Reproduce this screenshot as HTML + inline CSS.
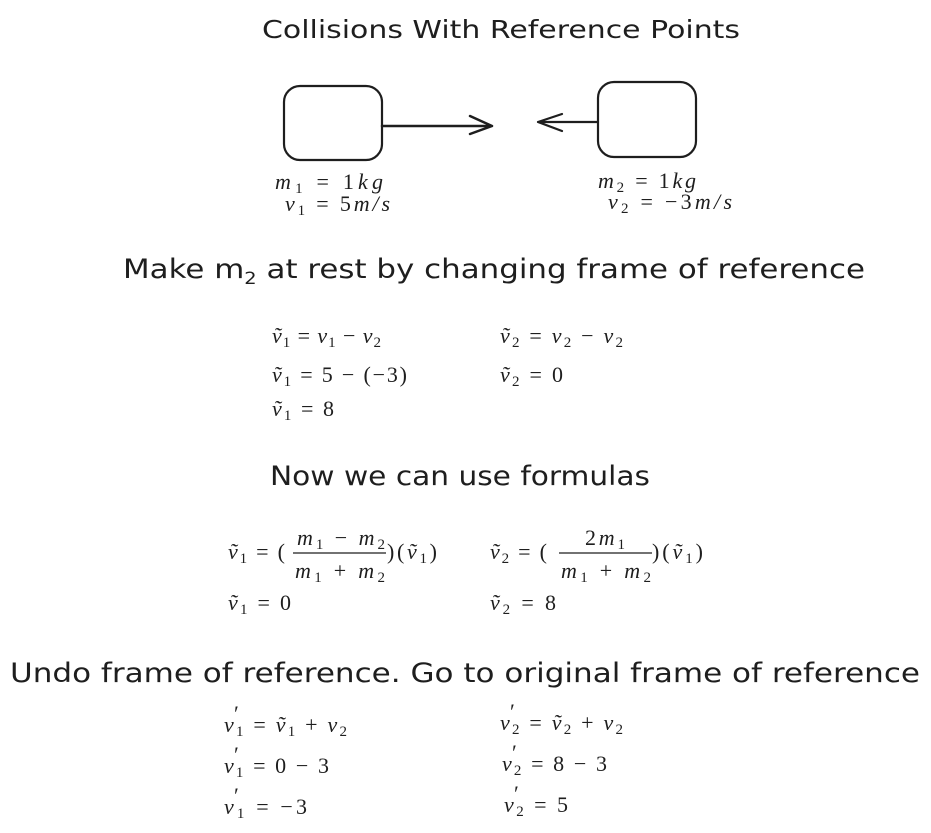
<!DOCTYPE html>
<html><head><meta charset="utf-8"><style>
html,body{margin:0;padding:0;background:#fff;}
svg{display:block}
.h{font-family:"DejaVu Sans","Liberation Sans",sans-serif;fill:#1e1e1e;}
.m{font-family:"Liberation Serif",serif;font-size:22px;fill:#1e1e1e;}
.i{font-style:italic}
</style></head><body>
<svg width="931" height="833" viewBox="0 0 931 833" xmlns="http://www.w3.org/2000/svg">
<text class="h" x="501" y="38" font-size="25" text-anchor="middle" textLength="478" lengthAdjust="spacingAndGlyphs">Collisions With Reference Points</text>

<rect x="284" y="86" width="98" height="74" rx="16" fill="none" stroke="#1e1e1e" stroke-width="2.2"/>
<path d="M382 126 L492 126 M470 116 L492 126 L470 134" fill="none" stroke="#1e1e1e" stroke-width="2.5" stroke-linecap="round" stroke-linejoin="round"/>
<rect x="598" y="82" width="98" height="75" rx="16" fill="none" stroke="#1e1e1e" stroke-width="2.2"/>
<path d="M598 122 L538 122 M562 114 L538 122 L562 131" fill="none" stroke="#1e1e1e" stroke-width="2.2" stroke-linecap="round" stroke-linejoin="round"/>

<text class="m" x="275" y="189" textLength="108" lengthAdjust="spacing"><tspan class="i">m</tspan><tspan font-size="15" dy="4">1</tspan><tspan dy="-4"> = 1</tspan><tspan class="i">kg</tspan></text>
<text class="m" x="285" y="211" textLength="105" lengthAdjust="spacing"><tspan class="i">v</tspan><tspan font-size="15" dy="4">1</tspan><tspan dy="-4"> = 5</tspan><tspan class="i">m/s</tspan></text>
<text class="m" x="598" y="188" textLength="98" lengthAdjust="spacing"><tspan class="i">m</tspan><tspan font-size="15" dy="4">2</tspan><tspan dy="-4"> = 1</tspan><tspan class="i">kg</tspan></text>
<text class="m" x="608" y="209" textLength="124" lengthAdjust="spacing"><tspan class="i">v</tspan><tspan font-size="15" dy="4">2</tspan><tspan dy="-4"> = −3</tspan><tspan class="i">m/s</tspan></text>

<text class="h" x="123" y="278" font-size="27" textLength="742" lengthAdjust="spacingAndGlyphs">Make m<tspan font-size="17" dy="6">2</tspan><tspan dy="-6"> at rest by changing frame of reference</tspan></text>

<text class="m" x="272" y="343" textLength="109" lengthAdjust="spacing"><tspan class="i">ṽ</tspan><tspan font-size="15" dy="4">1</tspan><tspan dy="-4"> = </tspan><tspan class="i">v</tspan><tspan font-size="15" dy="4">1</tspan><tspan dy="-4"> − </tspan><tspan class="i">v</tspan><tspan font-size="15" dy="4">2</tspan></text>
<text class="m" x="500" y="343" textLength="123" lengthAdjust="spacing"><tspan class="i">ṽ</tspan><tspan font-size="15" dy="4">2</tspan><tspan dy="-4"> = </tspan><tspan class="i">v</tspan><tspan font-size="15" dy="4">2</tspan><tspan dy="-4"> − </tspan><tspan class="i">v</tspan><tspan font-size="15" dy="4">2</tspan></text>
<text class="m" x="272" y="382" textLength="135" lengthAdjust="spacing"><tspan class="i">ṽ</tspan><tspan font-size="15" dy="4">1</tspan><tspan dy="-4"> = 5 − (−3)</tspan></text>
<text class="m" x="500" y="382" textLength="63" lengthAdjust="spacing"><tspan class="i">ṽ</tspan><tspan font-size="15" dy="4">2</tspan><tspan dy="-4"> = 0</tspan></text>
<text class="m" x="272" y="416" textLength="62" lengthAdjust="spacing"><tspan class="i">ṽ</tspan><tspan font-size="15" dy="4">1</tspan><tspan dy="-4"> = 8</tspan></text>

<text class="h" x="270" y="485" font-size="27" textLength="380" lengthAdjust="spacingAndGlyphs">Now we can use formulas</text>

<text class="m" x="228" y="559" textLength="57" lengthAdjust="spacing"><tspan class="i">ṽ</tspan><tspan font-size="15" dy="4">1</tspan><tspan dy="-4"> = (</tspan></text>
<text class="m" x="297" y="545" textLength="88" lengthAdjust="spacing"><tspan class="i">m</tspan><tspan font-size="15" dy="4">1</tspan><tspan dy="-4"> − </tspan><tspan class="i">m</tspan><tspan font-size="15" dy="4">2</tspan></text>
<line x1="293" y1="553" x2="386" y2="553" stroke="#1e1e1e" stroke-width="1.2"/>
<text class="m" x="295" y="578" textLength="90" lengthAdjust="spacing"><tspan class="i">m</tspan><tspan font-size="15" dy="4">1</tspan><tspan dy="-4"> + </tspan><tspan class="i">m</tspan><tspan font-size="15" dy="4">2</tspan></text>
<text class="m" x="387" y="559" textLength="50" lengthAdjust="spacing">)(<tspan class="i">ṽ</tspan><tspan font-size="15" dy="4">1</tspan><tspan dy="-4">)</tspan></text>

<text class="m" x="490" y="559" textLength="57" lengthAdjust="spacing"><tspan class="i">ṽ</tspan><tspan font-size="15" dy="4">2</tspan><tspan dy="-4"> = (</tspan></text>
<text class="m" x="585" y="545" textLength="40" lengthAdjust="spacing">2<tspan class="i">m</tspan><tspan font-size="15" dy="4">1</tspan></text>
<line x1="559" y1="553" x2="652" y2="553" stroke="#1e1e1e" stroke-width="1.2"/>
<text class="m" x="561" y="578" textLength="90" lengthAdjust="spacing"><tspan class="i">m</tspan><tspan font-size="15" dy="4">1</tspan><tspan dy="-4"> + </tspan><tspan class="i">m</tspan><tspan font-size="15" dy="4">2</tspan></text>
<text class="m" x="652" y="559" textLength="51" lengthAdjust="spacing">)(<tspan class="i">ṽ</tspan><tspan font-size="15" dy="4">1</tspan><tspan dy="-4">)</tspan></text>

<text class="m" x="228" y="610" textLength="63" lengthAdjust="spacing"><tspan class="i">ṽ</tspan><tspan font-size="15" dy="4">1</tspan><tspan dy="-4"> = 0</tspan></text>
<text class="m" x="490" y="610" textLength="66" lengthAdjust="spacing"><tspan class="i">ṽ</tspan><tspan font-size="15" dy="4">2</tspan><tspan dy="-4"> = 8</tspan></text>

<text class="h" x="10" y="682" font-size="27" textLength="910" lengthAdjust="spacingAndGlyphs">Undo frame of reference. Go to original frame of reference</text>

<g class="m">
<text class="m" x="234" y="721" font-size="14">′</text>
<text class="m" x="234" y="762" font-size="14">′</text>
<text class="m" x="234" y="803" font-size="14">′</text>
<text class="m" x="510" y="719" font-size="14">′</text>
<text class="m" x="512" y="760" font-size="14">′</text>
<text class="m" x="514" y="801" font-size="14">′</text>
</g>
<text class="m" x="224" y="732" textLength="123" lengthAdjust="spacing"><tspan class="i">v</tspan><tspan font-size="15" dy="4">1</tspan><tspan dy="-4"> = </tspan><tspan class="i">ṽ</tspan><tspan font-size="15" dy="4">1</tspan><tspan dy="-4"> + </tspan><tspan class="i">v</tspan><tspan font-size="15" dy="4">2</tspan></text>
<text class="m" x="224" y="773" textLength="105" lengthAdjust="spacing"><tspan class="i">v</tspan><tspan font-size="15" dy="4">1</tspan><tspan dy="-4"> = 0 − 3</tspan></text>
<text class="m" x="224" y="814" textLength="83" lengthAdjust="spacing"><tspan class="i">v</tspan><tspan font-size="15" dy="4">1</tspan><tspan dy="-4"> = −3</tspan></text>
<text class="m" x="500" y="730" textLength="123" lengthAdjust="spacing"><tspan class="i">v</tspan><tspan font-size="15" dy="4">2</tspan><tspan dy="-4"> = </tspan><tspan class="i">ṽ</tspan><tspan font-size="15" dy="4">2</tspan><tspan dy="-4"> + </tspan><tspan class="i">v</tspan><tspan font-size="15" dy="4">2</tspan></text>
<text class="m" x="502" y="771" textLength="105" lengthAdjust="spacing"><tspan class="i">v</tspan><tspan font-size="15" dy="4">2</tspan><tspan dy="-4"> = 8 − 3</tspan></text>
<text class="m" x="504" y="812" textLength="64" lengthAdjust="spacing"><tspan class="i">v</tspan><tspan font-size="15" dy="4">2</tspan><tspan dy="-4"> = 5</tspan></text>
</svg>
</body></html>
